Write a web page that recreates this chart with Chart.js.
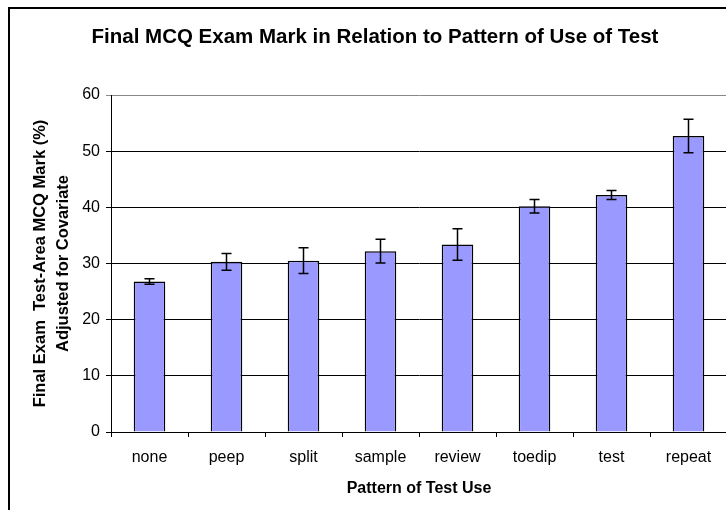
<!DOCTYPE html>
<html>
<head>
<meta charset="utf-8">
<script src="https://cdn.jsdelivr.net/npm/chart.js@4.4.0/dist/chart.umd.min.js"></script>
<style>
  html, body { margin: 0; padding: 0; background: #fff; overflow: hidden; }
  #frame { position: absolute; left: 8px; top: 7px; width: 900px; height: 700px; border: 2px solid #000; }
  #wrap { position: absolute; left: 0; top: 0; width: 760px; height: 510px; }
</style>
</head>
<body>
<div id="frame"></div>
<div id="wrap"><canvas id="chart" width="760" height="510"></canvas></div>
<script>
// data
const categories = ["none", "peep", "split", "sample", "review", "toedip", "test", "repeat"];
const marks = [26.8, 30.3, 30.5, 32.2, 33.4, 40.2, 42.2, 52.7];
const errors = [0.5, 1.5, 2.3, 2.1, 2.8, 1.2, 0.8, 3.0];
const yTicks = [0, 10, 20, 30, 40, 50, 60];

const chartTitle = "Final MCQ Exam Mark in Relation to Pattern of Use of Test";
const font = "'Liberation Sans', Arial, sans-serif";

// error bars, drawn through the y scale
const errorBars = {
  id: "errorBars",
  afterDatasetsDraw(chart) {
    const ctx = chart.ctx;
    const y = chart.scales.y;
    const bars = chart.getDatasetMeta(0).data;
    ctx.save();
    ctx.strokeStyle = "#000";
    ctx.lineWidth = 1.5;
    bars.forEach((bar, i) => {
      const top = y.getPixelForValue(marks[i] + errors[i]);
      const bot = y.getPixelForValue(marks[i] - errors[i]);
      ctx.beginPath();
      ctx.moveTo(bar.x, top); ctx.lineTo(bar.x, bot);
      ctx.moveTo(bar.x - 5, top); ctx.lineTo(bar.x + 5, top);
      ctx.moveTo(bar.x - 5, bot); ctx.lineTo(bar.x + 5, bot);
      ctx.stroke();
    });
    ctx.restore();
  }
};

// title placed like the original (centred on the framed box, not the plot)
const topTitle = {
  id: "topTitle",
  afterDraw(chart) {
    const ctx = chart.ctx;
    ctx.save();
    ctx.font = "bold 20.5px " + font;
    ctx.fillStyle = "#000";
    ctx.textAlign = "center";
    ctx.textBaseline = "middle";
    ctx.fillText(chartTitle, 375, 37);
    ctx.restore();
  }
};

new Chart(document.getElementById("chart"), {
  type: "bar",
  data: {
    labels: categories,
    datasets: [{
      data: marks,
      backgroundColor: "#9999FF",
      borderColor: "#000",
      borderWidth: 1.5,
      categoryPercentage: 1,
      barPercentage: 0.41
    }]
  },
  options: {
    responsive: false,
    animation: false,
    layout: { padding: { top: 95, right: 33, left: 0, bottom: 0 } },
    plugins: {
      legend: { display: false },
      tooltip: { enabled: false }
    },
    scales: {
      x: {
        grid: { offset: true, drawOnChartArea: false, tickLength: 5, color: "#000" },
        border: { color: "#000", width: 1 },
        ticks: { color: "#000", font: { family: font, size: 16 }, padding: 11, maxRotation: 0 },
        title: {
          display: true, text: "Pattern of Test Use", color: "#000",
          font: { family: font, size: 16, weight: "bold" },
          padding: { top: 0, bottom: 12 }
        },
        afterFit(scale) { scale.height = 78; }
      },
      y: {
        min: 0, max: 60,
        afterBuildTicks(scale) { scale.ticks = yTicks.map(v => ({ value: v })); },
        grid: {
          color: c => (c.tick && c.tick.value === 60 ? "#888" : "#000"),
          tickLength: 5
        },
        border: { color: "#000", width: 1 },
        ticks: { color: "#000", font: { family: font, size: 16 }, padding: 6 },
        title: {
          display: true, text: ["Final Exam  Test-Area MCQ Mark (%)", "Adjusted for Covariate"], color: "#000",
          font: { family: font, size: 16.5, weight: "bold", lineHeight: 1.4 },
          padding: { top: 29, bottom: 0 }
        },
        afterFit(scale) { scale.width = 111; }
      }
    }
  },
  plugins: [errorBars, topTitle]
});
</script>
</body>
</html>
